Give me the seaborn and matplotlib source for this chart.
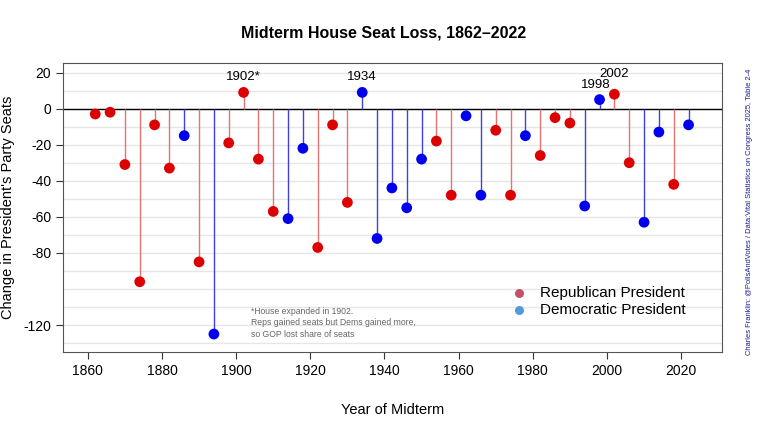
import numpy as np
import pandas as pd
import matplotlib.pyplot as plt
import seaborn as sns

# Midterm years and seat change for the president's party
years = list(range(1862, 2023, 4))
seat_change = [-3, -2, -31, -96, -9, -33, -15, -85, -125, -19,
               9, -28, -57, -61, -22, -77, -9, -52, 9, -72,
               -44, -55, -28, -18, -48, -4, -48, -12, -48, -15,
               -26, -5, -8, -54, 5, 8, -30, -63, -13, -42, -9]
party = ['R', 'R', 'R', 'R', 'R', 'R', 'D', 'R', 'D', 'R',
         'R', 'R', 'R', 'D', 'D', 'R', 'R', 'R', 'D', 'D',
         'D', 'D', 'D', 'R', 'R', 'D', 'D', 'R', 'R', 'D',
         'R', 'R', 'R', 'D', 'D', 'R', 'R', 'D', 'D', 'R', 'D']
labelled_years = {1902: '1902*', 1934: '1934', 1998: '1998', 2002: '2002'}
label_offsets = {1902: 5, 1934: 5, 1998: 5, 2002: 8}

df = pd.DataFrame({'year': years, 'change': seat_change, 'party': party})

plt.rcParams['font.family'] = ['Liberation Sans', 'DejaVu Sans']
plt.rcParams['axes.unicode_minus'] = False
fig, ax = plt.subplots(figsize=(7.68, 4.32), dpi=100)
plt.subplots_adjust(left=0.082, right=0.94, top=0.855, bottom=0.185)

dot_colors = {'R': '#dd0000', 'D': '#0000ee'}
stem_colors = {'R': '#e57373', 'D': '#4040e0'}

# Gridlines every 10 seats
for y in range(-130, 30, 10):
    ax.axhline(y, color='#e6e6e6', lw=1, zorder=0)
ax.axhline(0, color='black', lw=1, zorder=1)

# Stems
for p in ['R', 'D']:
    sub = df[df['party'] == p]
    ax.vlines(sub['year'], 0, sub['change'], color=stem_colors[p], lw=1.0, zorder=2)

sns.scatterplot(data=df, x='year', y='change', hue='party', palette=dot_colors,
                s=60, edgecolor='none', legend=False, ax=ax, zorder=3)

for yr, txt in labelled_years.items():
    val = df.loc[df['year'] == yr, 'change'].iloc[0]
    xpos = yr - 1 if yr == 1998 else yr
    ax.text(xpos, val + label_offsets[yr], txt, ha='center', va='bottom', fontsize=9.5)

ax.text(1904, -110, "*House expanded in 1902.\nReps gained seats but Dems gained more,\nso GOP lost share of seats",
        fontsize=6.2, color='#666666', va='top', linespacing=1.35)

# Legend
ax.scatter([], [], color='#c4506a', s=30, label='Republican President')
ax.scatter([], [], color='#5599dd', s=30, label='Democratic President')
ax.legend(loc='lower left', bbox_to_anchor=(0.648, 0.075), frameon=False, fontsize=11,
          handletextpad=0.4, labelspacing=0.2)

ax.set_xlim(1853.3, 2031)
ax.set_ylim(-135, 25.5)
ax.set_xticks(range(1860, 2021, 20))
ax.set_yticks([20, 0, -20, -40, -60, -80, -120])
ax.tick_params(labelsize=10, length=5, color='#333333')
for s in ax.spines.values():
    s.set_color('#555555')

ax.set_xlabel('Year of Midterm', fontsize=10.5, labelpad=18)
ax.set_ylabel("Change in President's Party Seats", fontsize=10.5, labelpad=6)
fig.suptitle('Midterm House Seat Loss, 1862\u20132022', fontsize=11.5, fontweight='bold', y=0.94)

fig.text(0.976, 0.51, 'Charles Franklin: @PollsAndVotes / Data:Vital Statistics on Congress 2025, Table 2-4',
         rotation=90, fontsize=5.4, color='#1a1a8c', ha='center', va='center')

plt.savefig('out.png', dpi=100)
